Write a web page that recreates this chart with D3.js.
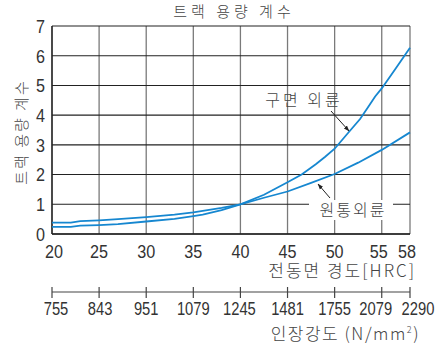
<!DOCTYPE html>
<html>
<head>
<meta charset="utf-8">
<script src="https://cdn.jsdelivr.net/npm/d3@7"></script>
<style>
  body { margin: 0; background: #fff; }
  text { fill: #333; }
  text.kr { fill: #444; }
</style>
</head>
<body>
<div id="viz"></div>
<script>
"use strict";

// HRC ticks and matching tensile strength
var hrcTicks = [20, 25, 30, 35, 40, 45, 50, 55, 58];
var tensileLabels = ["755", "843", "951", "1079", "1245", "1481", "1755", "2079", "2290"];
var yTicks = [0, 1, 2, 3, 4, 5, 6, 7];

// 구면 외륜 (spherical outer ring)
var sphericalHrc = [20, 22, 23, 25, 27, 30, 33, 35, 36, 38, 40, 42.5, 45, 46.5, 48, 49, 50, 51.4, 52.7, 53.4, 54.3, 55, 56.5, 58];
var sphericalVal = [0.24, 0.24, 0.28, 0.30, 0.33, 0.42, 0.51, 0.60, 0.65, 0.80, 1.0, 1.32, 1.74, 2.0, 2.35, 2.6, 2.87, 3.39, 3.87, 4.2, 4.63, 4.9, 5.58, 6.27];

// 원통외륜 (cylindrical outer ring)
var cylHrc = [20, 22, 23, 25, 27, 30, 33, 35, 38, 40, 42.5, 45, 47.5, 50, 52.5, 55, 58];
var cylVal = [0.38, 0.38, 0.43, 0.46, 0.50, 0.57, 0.65, 0.73, 0.88, 1.0, 1.22, 1.43, 1.72, 2.02, 2.4, 2.83, 3.42];

var width = 445, height = 347;
var kr = "'Noto Sans CJK KR', 'Noto Sans', sans-serif";
var num = "'Liberation Sans', Arial, sans-serif";

var x = d3.scaleLinear().domain([20, 58]).range([52, 410]);
var y = d3.scaleLinear().domain([0, 7]).range([234, 26]);

var svg = d3.select("#viz").append("svg")
	.attr("width", width)
	.attr("height", height);

var defs = svg.append("defs");
defs.append("marker")
	.attr("id", "arrow")
	.attr("viewBox", "0 0 10 10")
	.attr("refX", 9).attr("refY", 5)
	.attr("markerWidth", 6).attr("markerHeight", 6)
	.attr("orient", "auto")
	.append("path")
	.attr("d", "M0,1.5 L10,5 L0,8.5 Z")
	.attr("fill", "#222");

var krText = function(sel) {
	return sel.attr("class", "kr")
		.attr("font-family", kr)
		.attr("font-weight", 300)
}

// title
svg.append("text")
	.call(krText)
	.attr("x", 234).attr("y", 17)
	.attr("text-anchor", "middle")
	.attr("font-size", 15)
	.attr("letter-spacing", 4)
	.text("트랙 용량 계수");

// grid
var grid = svg.append("g");
grid.selectAll("line.v")
	.data(hrcTicks)
	.enter().append("line")
	.attr("class", "v")
	.attr("x1", function(d) { return x(d) }).attr("x2", function(d) { return x(d) })
	.attr("y1", y(7)).attr("y2", y(0))
	.attr("stroke", "#7a7a7a")
	.attr("stroke-width", 1.3);

grid.selectAll("line.h")
	.data(yTicks)
	.enter().append("line")
	.attr("class", "h")
	.attr("x1", x(20)).attr("x2", x(58))
	.attr("y1", function(d) { return y(d) }).attr("y2", function(d) { return y(d) })
	.attr("stroke", "#222")
	.attr("stroke-width", 1.1);

// left and bottom axis lines
svg.append("line")
	.attr("x1", x(20)).attr("x2", x(20)).attr("y1", y(7)).attr("y2", y(0))
	.attr("stroke", "#222").attr("stroke-width", 1.4);
svg.append("line")
	.attr("x1", x(20)).attr("x2", x(58)).attr("y1", y(0)).attr("y2", y(0))
	.attr("stroke", "#222").attr("stroke-width", 1.4);

// y tick labels (narrowed digits)
svg.selectAll("text.ytick")
	.data(yTicks)
	.enter().append("text")
	.attr("class", "ytick")
	.attr("x", 45)
	.attr("y", function(d) { return y(d) })
	.attr("dy", "0.36em")
	.attr("text-anchor", "end")
	.attr("font-family", num)
	.attr("font-size", 19)
	.attr("textLength", 9)
	.attr("lengthAdjust", "spacingAndGlyphs")
	.text(function(d) { return d });

// y label
svg.append("text")
	.call(krText)
	.attr("transform", "translate(27,132) rotate(-90)")
	.attr("text-anchor", "middle")
	.attr("font-size", 15)
	.attr("letter-spacing", 2)
	.text("트랙 용량 계수");

// x tick labels (HRC)
svg.selectAll("text.xtick")
	.data(hrcTicks)
	.enter().append("text")
	.attr("class", "xtick")
	.attr("x", function(d, i) { return x(d) + (i == 0 ? 2 : i == 7 ? -3 : i == 8 ? -3 : 0) })
	.attr("y", 258)
	.attr("text-anchor", "middle")
	.attr("font-family", num)
	.attr("font-size", 18)
	.attr("textLength", 18)
	.attr("lengthAdjust", "spacingAndGlyphs")
	.text(function(d) { return d });

svg.append("text")
	.call(krText)
	.attr("x", 416).attr("y", 277)
	.attr("text-anchor", "end")
	.attr("font-size", 17)
	.attr("letter-spacing", 2)
	.text("전동면 경도[HRC]");

// tensile strength axis
var axisY = 292;
svg.append("line")
	.attr("x1", x(20)).attr("x2", x(58)).attr("y1", axisY).attr("y2", axisY)
	.attr("stroke", "#444").attr("stroke-width", 1.2);
svg.selectAll("line.t")
	.data(hrcTicks)
	.enter().append("line")
	.attr("class", "t")
	.attr("x1", function(d) { return x(d) }).attr("x2", function(d) { return x(d) })
	.attr("y1", axisY - 5).attr("y2", axisY + 6)
	.attr("stroke", "#444").attr("stroke-width", 1.2);

var tensileShift = [4, 1, 0, 0, -1, 0, 0, -6, 8];
svg.selectAll("text.ttick")
	.data(hrcTicks)
	.enter().append("text")
	.attr("class", "ttick")
	.attr("x", function(d, i) { return x(d) + tensileShift[i] })
	.attr("y", 315)
	.attr("text-anchor", "middle")
	.attr("font-family", num)
	.attr("font-size", 18)
	.attr("textLength", function(d, i) { return tensileLabels[i].length * 8.2 })
	.attr("lengthAdjust", "spacingAndGlyphs")
	.text(function(d, i) { return tensileLabels[i] });

var tLabel = svg.append("text")
	.call(krText)
	.attr("x", 420).attr("y", 340)
	.attr("text-anchor", "end")
	.attr("font-size", 17)
	.attr("letter-spacing", 1.5);
tLabel.append("tspan").text("인장강도 (N/mm");
tLabel.append("tspan").attr("font-size", 9).attr("dy", -7).text("2");
tLabel.append("tspan").attr("dy", 7).text(")");

// curves
var line = d3.line()
	.x(function(d) { return x(d[0]) })
	.y(function(d) { return y(d[1]) });

var series = [
	sphericalHrc.map(function(h, i) { return [h, sphericalVal[i]] }),
	cylHrc.map(function(h, i) { return [h, cylVal[i]] })
];

svg.selectAll("path.curve")
	.data(series)
	.enter().append("path")
	.attr("class", "curve")
	.attr("d", line)
	.attr("fill", "none")
	.attr("stroke", "#1687d0")
	.attr("stroke-width", 1.8);

// labels with arrows
svg.append("rect")
	.attr("x", 309).attr("y", 200).attr("width", 84).attr("height", 20)
	.attr("fill", "#fff");
svg.append("text")
	.call(krText)
	.attr("x", 353).attr("y", 216)
	.attr("text-anchor", "middle")
	.attr("font-size", 16)
	.attr("letter-spacing", 2)
	.text("원통외륜");
svg.append("line")
	.attr("x1", 330).attr("y1", 198).attr("x2", 318).attr("y2", 184)
	.attr("stroke", "#222").attr("stroke-width", 1)
	.attr("marker-end", "url(#arrow)");

svg.append("text")
	.call(krText)
	.attr("x", 304).attr("y", 106)
	.attr("text-anchor", "middle")
	.attr("font-size", 16)
	.attr("letter-spacing", 3)
	.text("구면 외륜");
svg.append("line")
	.attr("x1", 331).attr("y1", 111).attr("x2", 349).attr("y2", 131)
	.attr("stroke", "#222").attr("stroke-width", 1)
	.attr("marker-end", "url(#arrow)");
</script>
</body>
</html>
